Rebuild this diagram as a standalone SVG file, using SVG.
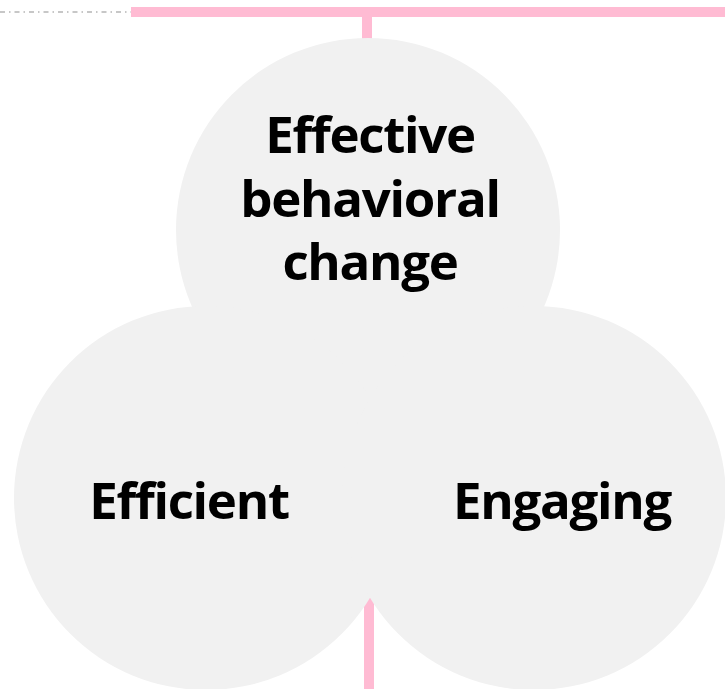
<svg xmlns="http://www.w3.org/2000/svg" width="725" height="689" viewBox="0 0 725 689">
<style>
.c{fill:#f1f1f1}
.pink{stroke:#ffbbd3;stroke-width:10;fill:none}
.t{font-family:"Open Sans","Noto Sans",sans-serif;font-weight:700;font-size:51px;fill:#000;text-anchor:middle;letter-spacing:-1.3px}
</style>
<rect width="725" height="689" fill="#fff"/>
<g id="connectors">
<line x1="0" y1="12" x2="131" y2="12" stroke="#b5b5b5" stroke-width="1.3" stroke-dasharray="5 4 1.5 4"/>
<line class="pink" x1="131" y1="12" x2="725" y2="12"/>
<line class="pink" x1="367" y1="12" x2="367" y2="60"/>
<line class="pink" x1="369" y1="560" x2="369" y2="689"/>
</g>
<g id="node-effective">
<circle class="c" cx="368" cy="230" r="192"/>
</g>
<g id="node-efficient">
<circle class="c" cx="206" cy="498" r="192"/>
</g>
<g id="node-engaging">
<circle class="c" cx="534" cy="498" r="192"/>
</g>
<g id="labels">
<text class="t" x="370" y="153">Effective</text>
<text class="t" x="370" y="217">behavioral</text>
<text class="t" x="370" y="280">change</text>
<text class="t" x="189" y="519">Efficient</text>
<text class="t" x="562" y="519">Engaging</text>
</g>
</svg>
